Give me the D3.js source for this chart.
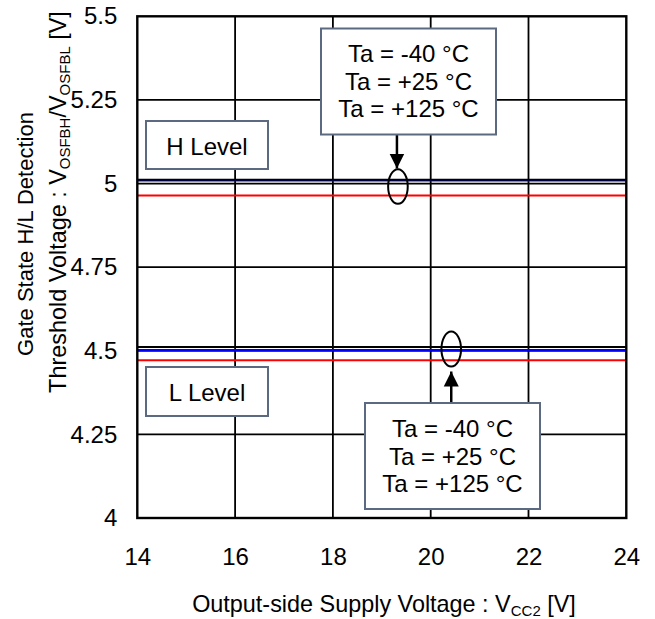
<!DOCTYPE html>
<html>
<head>
<meta charset="utf-8">
<script src="https://cdn.jsdelivr.net/npm/d3@7"></script>
<style>
  html, body { margin: 0; padding: 0; background: #fff; }
  svg { display: block; }
  text { font-family: "Liberation Sans", Arial, sans-serif; fill: #000; }
</style>
</head>
<body>
<svg id="chart" width="655" height="619"></svg>
<script>
// Supply voltage sweep points (V)
const vcc2 = [14, 16, 18, 20, 22, 24];

// H-level detection threshold V_OSFBH (V)
const hLevelM40 = [5.009, 5.009, 5.009, 5.009, 5.009, 5.009];
const hLevelP25 = [5.011, 5.011, 5.011, 5.011, 5.011, 5.011];
const hLevelP125 = [4.964, 4.964, 4.964, 4.964, 4.964, 4.964];

// L-level detection threshold V_OSFBL (V)
const lLevelM40 = [4.502, 4.502, 4.502, 4.502, 4.502, 4.502];
const lLevelP25 = [4.511, 4.511, 4.511, 4.511, 4.511, 4.511];
const lLevelP125 = [4.472, 4.472, 4.472, 4.472, 4.472, 4.472];

// Axis ticks
const xTicks = [14, 16, 18, 20, 22, 24];
const yTicks = [4, 4.25, 4.5, 4.75, 5, 5.25, 5.5];

// Legend text for the temperature groups
const tempLabels = ["Ta = -40 °C", "Ta = +25 °C", "Ta = +125 °C"];

const series = [
  { values: lLevelP125, color: "#ff0000" },
  { values: lLevelP25, color: "#000000" },
  { values: lLevelM40, color: "#0000ff" },
  { values: hLevelP125, color: "#ff0000" },
  { values: hLevelM40, color: "#0000ff" },
  { values: hLevelP25, color: "#000000" }
];

const svg = d3.select("#chart");
const plot = { left: 137.3, right: 626.3, top: 16.3, bottom: 518 };

const x = d3.scaleLinear().domain([14, 24]).range([plot.left, plot.right]);
const y = d3.scaleLinear().domain([4, 5.5]).range([plot.bottom, plot.top]);

const tickFont = "24px";
const titleFont = "23.4px";
const subFont = "15px";

// Grid lines
const grid = svg.append("g");
grid.selectAll("line.vx")
  .data(xTicks.slice(1, -1))
  .join("line")
  .attr("x1", d => x(d)).attr("x2", d => x(d))
  .attr("y1", plot.top).attr("y2", plot.bottom)
  .attr("stroke", "#000").attr("stroke-width", 1.8);
grid.selectAll("line.hy")
  .data(yTicks.slice(1, -1))
  .join("line")
  .attr("x1", plot.left).attr("x2", plot.right)
  .attr("y1", d => y(d)).attr("y2", d => y(d))
  .attr("stroke", "#000").attr("stroke-width", 1.8);

// Threshold curves
const line = d3.line()
  .x((d, i) => x(vcc2[i]))
  .y(d => y(d));
svg.append("g").selectAll("path")
  .data(series)
  .join("path")
  .attr("d", d => line(d.values))
  .attr("fill", "none")
  .attr("stroke", d => d.color)
  .attr("stroke-width", 2);

// Plot frame
svg.append("rect")
  .attr("x", plot.left).attr("y", plot.top)
  .attr("width", plot.right - plot.left)
  .attr("height", plot.bottom - plot.top)
  .attr("fill", "none").attr("stroke", "#000").attr("stroke-width", 2.4);

// Axes (labels only, frame drawn above)
const xAxis = svg.append("g")
  .attr("transform", `translate(0,${plot.bottom})`)
  .call(d3.axisBottom(x).tickValues(xTicks).tickSize(0).tickPadding(30)
    .tickFormat(d3.format("d")));
xAxis.select(".domain").remove();
xAxis.selectAll("text").style("font-size", tickFont)
  .style("font-family", "'Liberation Sans', Arial, sans-serif").attr("fill", "#000");

const yAxis = svg.append("g")
  .attr("transform", `translate(${plot.left},0)`)
  .call(d3.axisLeft(y).tickValues(yTicks).tickSize(0).tickPadding(20)
    .tickFormat(d => String(d)));
yAxis.select(".domain").remove();
yAxis.selectAll("text").style("font-size", tickFont)
  .style("font-family", "'Liberation Sans', Arial, sans-serif").attr("fill", "#000");

// X axis title
const xt = svg.append("text")
  .attr("x", 384).attr("y", 612)
  .attr("text-anchor", "middle")
  .style("font-size", titleFont);
xt.append("tspan").text("Output-side Supply Voltage : V");
xt.append("tspan").attr("dy", 4).style("font-size", subFont).text("CC2");
xt.append("tspan").attr("dy", -4).text(" [V]");

// Y axis title (two lines)
svg.append("text")
  .attr("transform", "translate(33,234) rotate(-90)")
  .attr("text-anchor", "middle")
  .style("font-size", "22px")
  .text("Gate State H/L Detection");
const yt = svg.append("text")
  .attr("transform", "translate(66,202) rotate(-90)")
  .attr("text-anchor", "middle")
  .style("font-size", titleFont);
yt.append("tspan").text("Threshold Voltage : V");
yt.append("tspan").attr("dy", 4).style("font-size", subFont).text("OSFBH");
yt.append("tspan").attr("dy", -4).text("/V");
yt.append("tspan").attr("dy", 4).style("font-size", subFont).text("OSFBL");
yt.append("tspan").attr("dy", -4).text(" [V]");

// Annotation boxes
const boxStroke = "#5b6a80";
function labelBox(x0, y0, w, h, lines, lineGap, firstY) {
  svg.append("rect")
    .attr("x", x0).attr("y", y0).attr("width", w).attr("height", h)
    .attr("fill", "#fff").attr("stroke", boxStroke).attr("stroke-width", 2);
  svg.append("g").selectAll("text")
    .data(lines)
    .join("text")
    .attr("x", x0 + w / 2)
    .attr("y", (d, i) => firstY + i * lineGap)
    .attr("text-anchor", "middle")
    .attr("dominant-baseline", "central")
    .style("font-size", "24px")
    .text(d => d);
}

labelBox(146, 121, 122, 48, ["H Level"], 0, 146);
labelBox(146, 367, 122, 49, ["L Level"], 0, 392);

// Arrow head marker
svg.append("defs").append("marker")
  .attr("id", "head")
  .attr("viewBox", "0 0 10 10")
  .attr("refX", 10).attr("refY", 5)
  .attr("markerUnits", "userSpaceOnUse")
  .attr("markerWidth", 15).attr("markerHeight", 16)
  .attr("orient", "auto")
  .append("path").attr("d", "M0,0 L10,5 L0,10 Z").attr("fill", "#000");

// H-level group marker
const hCx = x(19.33), hCy = y(4.991);
svg.append("ellipse")
  .attr("cx", hCx).attr("cy", hCy).attr("rx", 9.8).attr("ry", 17.3)
  .attr("fill", "none").attr("stroke", "#000").attr("stroke-width", 2);
svg.append("line")
  .attr("x1", hCx - 1).attr("y1", 134).attr("x2", hCx - 1).attr("y2", 168.5)
  .attr("stroke", "#000").attr("stroke-width", 2.5)
  .attr("marker-end", "url(#head)");

// L-level group marker
const lCx = x(20.42), lCy = y(4.505);
svg.append("ellipse")
  .attr("cx", lCx).attr("cy", lCy).attr("rx", 9.8).attr("ry", 17.5)
  .attr("fill", "none").attr("stroke", "#000").attr("stroke-width", 2);
svg.append("line")
  .attr("x1", lCx).attr("y1", 403).attr("x2", lCx).attr("y2", 371.5)
  .attr("stroke", "#000").attr("stroke-width", 2.5)
  .attr("marker-end", "url(#head)");

labelBox(321, 28.5, 175, 106, tempLabels, 27.5, 53.5);
labelBox(365, 403, 175, 106, tempLabels, 27.5, 428.5);
</script>
</body>
</html>
